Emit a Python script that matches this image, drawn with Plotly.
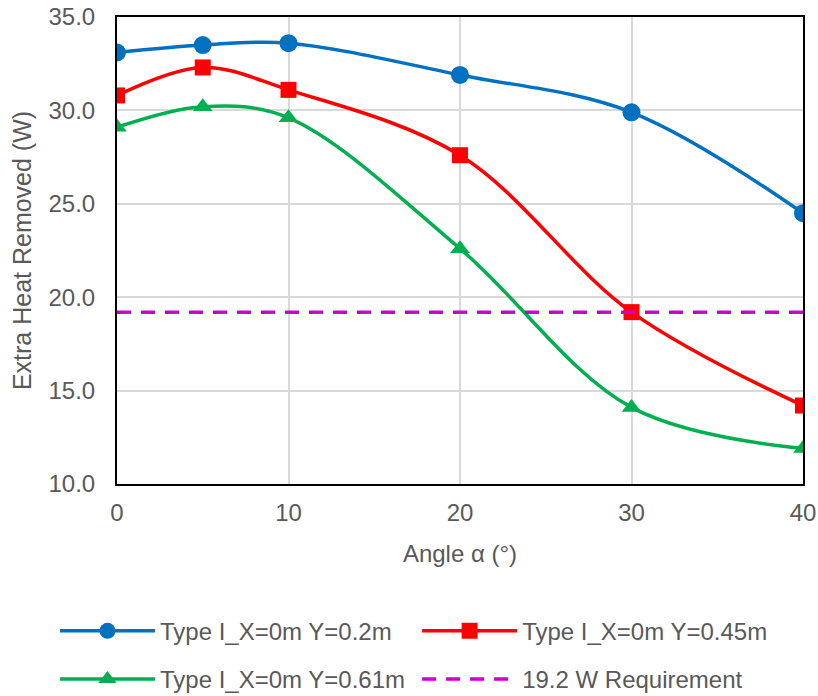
import plotly.graph_objects as go

angles = [0, 5, 10, 20, 30, 40]
y_02 = [33.1, 33.5, 33.6, 31.9, 29.9, 24.5]
y_045 = [30.8, 32.3, 31.1, 27.6, 19.2, 14.2]
y_061 = [29.1, 30.2, 29.6, 22.6, 14.1, 11.9]
req_x = [0, 40]
req_y = [19.2, 19.2]

names = ["Type I_X=0m Y=0.2m", "Type I_X=0m Y=0.45m", "Type I_X=0m Y=0.61m", "19.2 W Requirement"]

FONT = "Liberation Sans, Arial, sans-serif"
GRAY = "#595959"

fig = go.Figure()
fig.add_trace(go.Scatter(x=angles, y=y_02, name=names[0], mode="lines+markers",
                         line=dict(color="#0070C0", width=3.5, shape="spline"),
                         marker=dict(symbol="circle", size=18, color="#0070C0"),
                         legend="legend", legendgroup="a"))
fig.add_trace(go.Scatter(x=angles, y=y_061, name=names[2], mode="lines+markers",
                         line=dict(color="#00B050", width=3.5, shape="spline"),
                         marker=dict(symbol="triangle-up", size=17, color="#00B050"),
                         legend="legend", legendgroup="b"))
fig.add_trace(go.Scatter(x=angles, y=y_045, name=names[1], mode="lines+markers",
                         line=dict(color="#FF0000", width=3.5, shape="spline"),
                         marker=dict(symbol="square", size=16, color="#FF0000"),
                         legend="legend2", legendgroup="c"))
fig.add_trace(go.Scatter(x=req_x, y=req_y, name=names[3], mode="lines",
                         line=dict(color="#CC00CC", width=3.5, dash="14px,10px"),
                         legend="legend2", legendgroup="d"))

leg_common = dict(orientation="v", font=dict(family=FONT, size=24, color=GRAY),
                  bgcolor="rgba(0,0,0,0)", tracegroupgap=14, itemwidth=95,
                  xanchor="left", yanchor="top")

fig.update_layout(
    width=818, height=696,
    margin=dict(l=117, r=15, t=17, b=212, autoexpand=False),
    paper_bgcolor="white", plot_bgcolor="white",
    font=dict(family=FONT, size=24, color=GRAY),
    legend=dict(x=-0.0904, y=-0.267, **leg_common),
    legend2=dict(x=0.4375, y=-0.267, **leg_common),
    xaxis=dict(range=[0, 40], dtick=10, tick0=0, showgrid=True, gridcolor="#D9D9D9", gridwidth=2,
               showline=True, linecolor="black", linewidth=2, mirror=True, ticks="",
               tickfont=dict(family=FONT, size=24, color=GRAY), ticklabelstandoff=6,
               title=dict(text="Angle α (°)", font=dict(family=FONT, size=24, color=GRAY), standoff=20),
               zeroline=False, automargin=False),
    yaxis=dict(range=[10, 35], dtick=5, tick0=10, tickformat=".1f", showgrid=True, gridcolor="#D9D9D9",
               gridwidth=2, showline=True, linecolor="black", linewidth=2, mirror=True, ticks="",
               tickfont=dict(family=FONT, size=24, color=GRAY), ticklabelstandoff=15,
               title=dict(text="Extra Heat Removed (W)", font=dict(family=FONT, size=25, color=GRAY), standoff=10),
               zeroline=False, automargin=False),
)

fig.write_html("out.html", config={"displayModeBar": False},
               post_script="document.body.style.margin='0';")
